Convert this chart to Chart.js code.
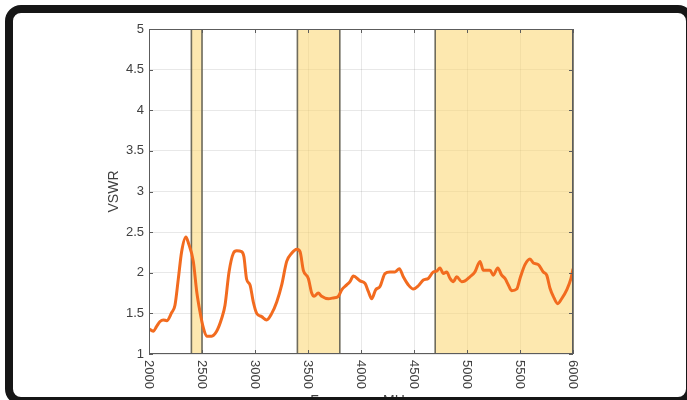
<!DOCTYPE html>
<html>
<head>
    <script src="https://cdn.jsdelivr.net/npm/chart.js@4.4.0/dist/chart.umd.min.js"></script>
    <style>
        body { margin: 0; background: #fff; }
        #wrap { position: relative; width: 687px; height: 400px; overflow: hidden; }
        #frame {
            position: absolute; left: 5px; top: 5px; width: 689px; height: 400px;
            box-sizing: border-box; border: 8px solid #161616; border-radius: 16px;
            pointer-events: none;
        }
    </style>
</head>
<body>
<div id="wrap">
    <canvas id="myChart" width="687" height="400"></canvas>
    <div id="frame"></div>
</div>

<script>
    const freq = [2000, 2040, 2072, 2104, 2135, 2167, 2214, 2245, 2277, 2308, 2348, 2371, 2418, 2450, 2481,
        2513, 2544, 2591, 2638, 2686, 2717, 2755, 2796, 2827, 2874, 2895, 2921, 2953, 2984, 3016,
        3063, 3110, 3158, 3205, 3252, 3299, 3346, 3393, 3425, 3456, 3503, 3535, 3557, 3597, 3629,
        3692, 3739, 3786, 3818, 3865, 3896, 3928, 3991, 4038, 4069, 4101, 4138, 4179, 4226, 4274,
        4321, 4362, 4399, 4447, 4494, 4541, 4588, 4635, 4682, 4714, 4745, 4777, 4808, 4840, 4871,
        4903, 4950, 4981, 5028, 5075, 5123, 5154, 5186, 5217, 5248, 5290, 5327, 5358, 5390, 5421,
        5469, 5500, 5547, 5594, 5626, 5673, 5720, 5752, 5783, 5814, 5856, 5893, 5941, 5981, 6000];
    const vswr = [1.31, 1.28, 1.34, 1.40, 1.42, 1.41, 1.51, 1.60, 1.93, 2.26, 2.44, 2.37, 2.14, 1.77, 1.52,
        1.32, 1.22, 1.22, 1.28, 1.44, 1.60, 2.01, 2.24, 2.27, 2.26, 2.20, 1.92, 1.85, 1.64, 1.50,
        1.46, 1.42, 1.50, 1.64, 1.85, 2.14, 2.24, 2.29, 2.26, 2.03, 1.93, 1.75, 1.71, 1.75, 1.71,
        1.68, 1.69, 1.71, 1.79, 1.85, 1.89, 1.96, 1.90, 1.87, 1.77, 1.68, 1.79, 1.83, 1.99, 2.01,
        2.01, 2.05, 1.95, 1.85, 1.80, 1.84, 1.91, 1.93, 2.01, 2.02, 2.06, 1.99, 2.01, 1.93, 1.89,
        1.95, 1.89, 1.90, 1.95, 2.01, 2.14, 2.03, 2.03, 2.03, 1.97, 2.06, 1.97, 1.93, 1.85, 1.78,
        1.80, 1.93, 2.10, 2.17, 2.12, 2.10, 2.01, 1.97, 1.81, 1.71, 1.62, 1.68, 1.79, 1.93, 2.05];

    // shaded bands (MHz)
    const bandStart = [2400, 3400, 4700];
    const bandEnd = [2500, 3800, 6000];

    const xTicks = [2000, 2500, 3000, 3500, 4000, 4500, 5000, 5500, 6000];
    const yTicks = [1, 1.5, 2, 2.5, 3, 3.5, 4, 4.5, 5];

    const textColor = "#404040";
    const fontFam = "'Liberation Sans', Arial, sans-serif";

    const decorations = {
        id: "decorations",
        beforeDatasetsDraw(chart) {
            const ctx = chart.ctx, a = chart.chartArea, x = chart.scales.x;
            ctx.save();
            for (let i = 0; i < bandStart.length; i++) {
                const x0 = x.getPixelForValue(bandStart[i]);
                const x1 = x.getPixelForValue(bandEnd[i]);
                ctx.fillStyle = "rgba(251,213,110,0.55)";
                ctx.fillRect(x0, a.top, x1 - x0, a.bottom - a.top);
                ctx.strokeStyle = "#6f6c5c";
                ctx.lineWidth = 1.6;
                ctx.beginPath();
                ctx.moveTo(x0, a.top); ctx.lineTo(x0, a.bottom);
                ctx.moveTo(x1, a.top); ctx.lineTo(x1, a.bottom);
                ctx.stroke();
            }
            ctx.restore();
        },
        afterDraw(chart) {
            const ctx = chart.ctx, a = chart.chartArea, x = chart.scales.x, y = chart.scales.y;
            ctx.save();
            // axis box and inward ticks
            ctx.strokeStyle = "#5c5c5c";
            ctx.lineWidth = 1;
            ctx.strokeRect(a.left + 0.5, a.top + 0.5, a.right - a.left - 1, a.bottom - a.top - 1);
            ctx.beginPath();
            x.ticks.forEach(t => {
                const px = Math.round(x.getPixelForValue(t.value)) + 0.5;
                ctx.moveTo(px, a.bottom); ctx.lineTo(px, a.bottom - 4);
                ctx.moveTo(px, a.top); ctx.lineTo(px, a.top + 4);
            });
            y.ticks.forEach(t => {
                const py = Math.round(y.getPixelForValue(t.value)) + 0.5;
                ctx.moveTo(a.left, py); ctx.lineTo(a.left + 4, py);
                ctx.moveTo(a.right, py); ctx.lineTo(a.right - 4, py);
            });
            ctx.stroke();
            // x tick labels, turned clockwise
            ctx.fillStyle = textColor;
            ctx.font = "13px " + fontFam;
            ctx.textAlign = "left";
            ctx.textBaseline = "middle";
            x.ticks.forEach(t => {
                const px = x.getPixelForValue(t.value);
                ctx.save();
                ctx.translate(px, a.bottom + 6);
                ctx.rotate(Math.PI / 2);
                ctx.fillText(String(t.value), 0, 0);
                ctx.restore();
            });
            // axis titles
            ctx.font = "14px " + fontFam;
            ctx.textAlign = "center";
            ctx.textBaseline = "top";
            ctx.fillText("Frequency, MHz", (a.left + a.right) / 2, 394);
            ctx.save();
            ctx.translate(114, (a.top + a.bottom) / 2);
            ctx.rotate(-Math.PI / 2);
            ctx.textBaseline = "middle";
            ctx.fillText("VSWR", 0, 0);
            ctx.restore();
            ctx.restore();
        }
    };

    const myChart = new Chart("myChart", {
        type: "line",
        data: {
            datasets: [{
                data: freq.map((f, i) => ({ x: f, y: vswr[i] })),
                borderColor: "#f26b1f",
                borderWidth: 3,
                pointRadius: 0,
                cubicInterpolationMode: "monotone",
                fill: false
            }]
        },
        options: {
            responsive: false,
            animation: false,
            layout: { padding: { left: 0, top: 29, right: 114, bottom: 0 } },
            plugins: { legend: { display: false }, tooltip: { enabled: false } },
            scales: {
                x: {
                    type: "linear",
                    min: 2000, max: 6000,
                    afterBuildTicks: s => { s.ticks = xTicks.map(v => ({ value: v })); },
                    afterFit: s => { s.height = 46; },
                    ticks: { display: false },
                    grid: { color: "rgba(0,0,0,0.09)", drawTicks: false },
                    border: { display: false }
                },
                y: {
                    min: 1, max: 5,
                    afterBuildTicks: s => { s.ticks = yTicks.map(v => ({ value: v })); },
                    afterFit: s => { s.width = 149; },
                    ticks: {
                        color: textColor, font: { size: 13, family: fontFam }, padding: 5,
                        callback: v => String(v)
                    },
                    grid: { color: "rgba(0,0,0,0.09)", drawTicks: false },
                    border: { display: false }
                }
            }
        },
        plugins: [decorations]
    });
</script>
</body>
</html>
